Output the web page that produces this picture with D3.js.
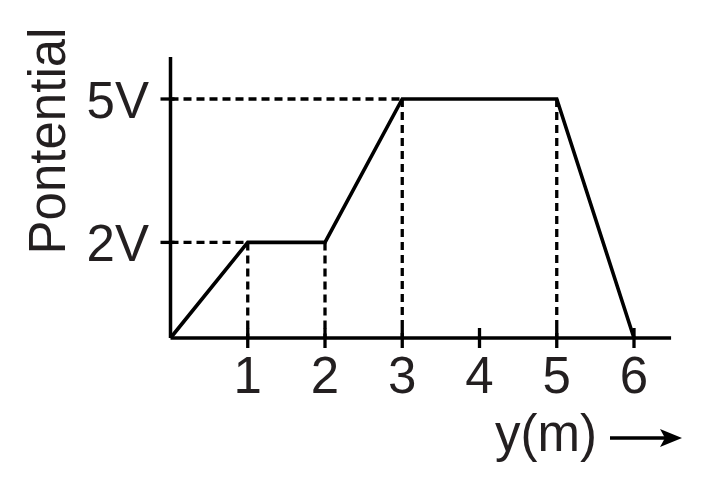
<!DOCTYPE html>
<html>
<head>
<meta charset="utf-8">
<script src="https://cdn.jsdelivr.net/npm/d3@7"></script>
<style>
  body{margin:0;background:#fff;}
  text{font-family:"Liberation Sans",Arial,sans-serif;fill:#231f20;}
</style>
</head>
<body>
<div id="chart"></div>
<script>
// data
var xs = [0, 1, 2, 3, 5, 6];
var potentials = [0, 2, 2, 5, 5, 0];
var xTicks = [1, 2, 3, 4, 5, 6];
var yTicks = [2, 5];
var yTickLabels = ["2V", "5V"];
var xTitle = "y(m)";
var yTitle = "Pontential";

var width = 703, height = 488;
var x0 = 170.5, y0 = 338;

var svg = d3.select("#chart").append("svg")
  .attr("width", width)
  .attr("height", height);

var x = d3.scaleLinear().domain([0, 6]).range([x0, 634]);
var y = d3.scaleLinear().domain([0, 5]).range([y0, 99]);

var points = xs.map(function(d, i){ return {x: d, v: potentials[i]}; });

var ink = "#000";

// dashed guide lines (horizontal from the y axis, vertical down to the x axis)
var guides = [];
yTicks.forEach(function(v){
  var first = points.find(function(p){ return p.v == v; });
  guides.push({x1: 0, y1: v, x2: first.x, y2: v});
});
points.forEach(function(p){
  if(p.v > 0) guides.push({x1: p.x, y1: p.v, x2: p.x, y2: 0});
});

svg.selectAll(".guide")
  .data(guides)
  .enter().append("line")
  .attr("class", "guide")
  .attr("x1", function(d){ return x(d.x1); })
  .attr("y1", function(d){ return y(d.y1); })
  .attr("x2", function(d){ return x(d.x2); })
  .attr("y2", function(d){ return y(d.y2); })
  .attr("stroke", ink)
  .attr("stroke-width", 3.3)
  .attr("stroke-dasharray", "8,5");

// axes
svg.append("line")
  .attr("x1", x(0)).attr("x2", x(6.48))
  .attr("y1", y(0)).attr("y2", y(0))
  .attr("stroke", ink).attr("stroke-width", 3.5);
svg.append("line")
  .attr("x1", x(0)).attr("x2", x(0))
  .attr("y1", y(0)).attr("y2", y(5.88))
  .attr("stroke", ink).attr("stroke-width", 3.5);

// x ticks cross the axis
svg.selectAll(".xtick")
  .data(xTicks)
  .enter().append("line")
  .attr("x1", x).attr("x2", x)
  .attr("y1", y(0) - 10).attr("y2", y(0) + 10)
  .attr("stroke", ink).attr("stroke-width", 3.3);

svg.selectAll(".xlabel")
  .data(xTicks)
  .enter().append("text")
  .attr("x", x)
  .attr("y", 393)
  .attr("text-anchor", "middle")
  .attr("font-size", 51)
  .text(function(d){ return d; });

// y ticks
svg.selectAll(".ytick")
  .data(yTicks)
  .enter().append("line")
  .attr("x1", x(0) - 10).attr("x2", x(0) + 4)
  .attr("y1", y).attr("y2", y)
  .attr("stroke", ink).attr("stroke-width", 3.3);

svg.selectAll(".ylabel")
  .data(yTicks)
  .enter().append("text")
  .attr("x", 149)
  .attr("y", function(d){ return y(d) + 18.5; })
  .attr("text-anchor", "end")
  .attr("font-size", 51)
  .text(function(d, i){ return yTickLabels[i]; });

// the potential curve
var line = d3.line()
  .x(function(d){ return x(d.x); })
  .y(function(d){ return y(d.v); });

svg.append("path")
  .datum(points)
  .attr("d", line)
  .attr("fill", "none")
  .attr("stroke", ink)
  .attr("stroke-width", 3.6)
  .attr("stroke-linejoin", "miter");

// titles
svg.append("text")
  .attr("transform", "translate(65,141) rotate(-90)")
  .attr("text-anchor", "middle")
  .attr("font-size", 51)
  .text(yTitle);

svg.append("text")
  .attr("x", 495)
  .attr("y", 451)
  .attr("font-size", 51)
  .text(xTitle);

// arrow after the x title
svg.append("line")
  .attr("x1", 610).attr("x2", 668)
  .attr("y1", 438).attr("y2", 438)
  .attr("stroke", ink).attr("stroke-width", 3.5);
svg.append("path")
  .attr("d", "M682,438 L660,429 L665,438 L660,447 Z")
  .attr("fill", ink);
</script>
</body>
</html>
